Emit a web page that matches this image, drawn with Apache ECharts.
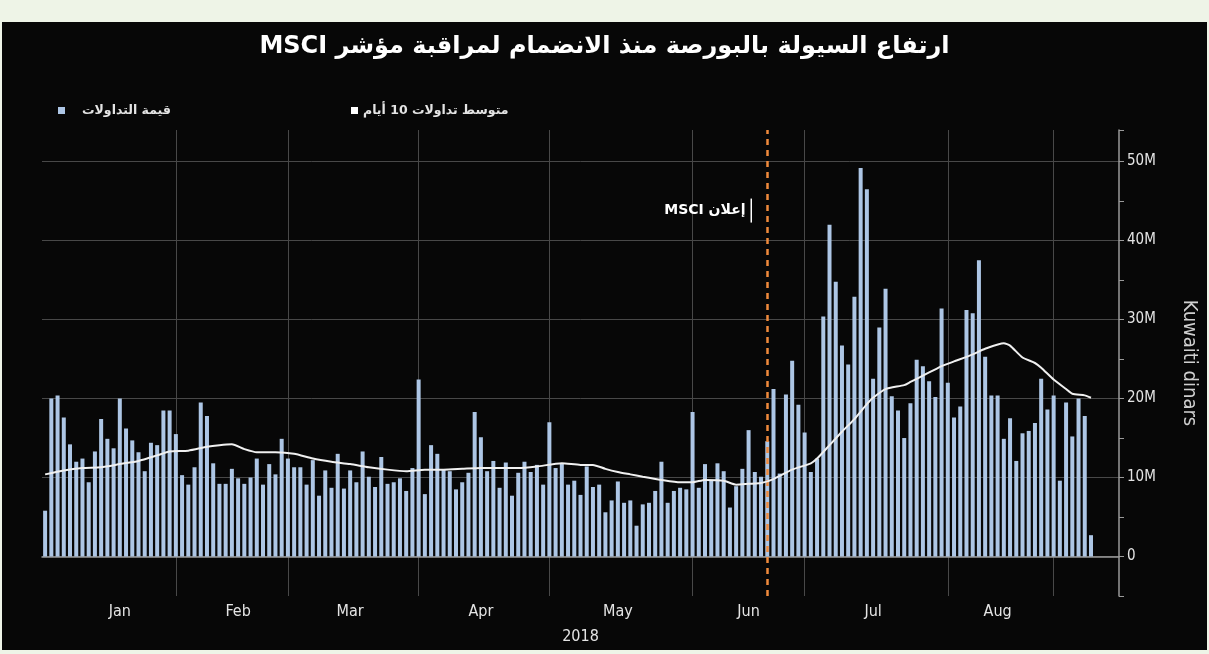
<!DOCTYPE html>
<html>
<head>
<meta charset="utf-8">
<script src="https://cdn.jsdelivr.net/npm/echarts@6/dist/echarts.min.js"></script>
<style>
  html, body { margin: 0; padding: 0; background: #eef4e7; }
  #chart { position: absolute; left: 2px; top: 22px; width: 1205px; height: 628px; background: #070707; }
</style>
</head>
<body>
<div id="chart"></div>
<script>
// trading days per month (Sep is partial, last slots are empty padding)
const monthNames = ['Jan', 'Feb', 'Mar', 'Apr', 'May', 'Jun', 'Jul', 'Aug', 'Sep'];
const monthDays = [21, 18, 21, 21, 23, 18, 23, 17, 11];
// where the month names sit (trading-day index)
const monthLabelIdx = [12, 31, 49, 70, 92, 113, 133, 153];

// daily traded value, million KWD
const tradeValue = [
  5.8, 20.0, 20.4, 17.6, 14.2, 12.0, 12.4, 9.4, 13.3, 17.4,
  14.9, 13.7, 20.0, 16.2, 14.7, 13.2, 10.8, 14.4, 14.1, 18.5,
  18.5, 15.5, 10.3, 9.1, 11.3, 19.5, 17.8, 11.8, 9.2, 9.2,
  11.1, 9.9, 9.2, 10.0, 12.4, 9.1, 11.7, 10.4, 14.9, 12.4,
  11.3, 11.3, 9.1, 12.2, 7.7, 10.9, 8.7, 13.0, 8.6, 10.9,
  9.4, 13.3, 10.1, 8.8, 12.6, 9.2, 9.4, 9.9, 8.3, 11.2,
  22.4, 7.9, 14.1, 13.0, 11.0, 10.8, 8.5, 9.4, 10.6, 18.3,
  15.1, 10.8, 12.1, 8.7, 11.9, 7.7, 10.6, 12.0, 10.7, 11.6,
  9.1, 17.0, 11.2, 11.8, 9.1, 9.6, 7.8, 11.4, 8.8, 9.1,
  5.6, 7.1, 9.5, 6.8, 7.1, 3.9, 6.6, 6.8, 8.3, 12.0,
  6.8, 8.3, 8.7, 8.5, 18.3, 8.7, 11.7, 9.6, 11.8, 10.8,
  6.2, 8.9, 11.1, 16.0, 10.7, 10.1, 14.6, 21.2, 10.5, 20.5,
  24.8, 19.2, 15.7, 10.7, 12.4, 30.4, 42.0, 34.8, 26.7, 24.3,
  32.9, 49.2, 46.5, 22.5, 29.0, 33.9, 20.3, 18.5, 15.0, 19.4,
  24.9, 24.1, 22.2, 20.2, 31.4, 22.0, 17.6, 19.0, 31.2, 30.8,
  37.5, 25.3, 20.4, 20.4, 14.9, 17.5, 12.1, 15.6, 15.9, 16.9,
  22.5, 18.6, 20.4, 9.6, 19.5, 15.2, 20.0, 17.8, 2.7
];

// 10-day average: [day index, million KWD]
const avg10 = [
  [0, 10.4], [3, 10.9], [6, 11.2], [9, 11.3], [12, 11.7], [15, 12.1], [18, 12.8],
  [20, 13.3], [23, 13.4], [26, 13.9], [28, 14.1], [30, 14.2], [32, 13.6], [34, 13.2],
  [37, 13.2], [40, 13.0], [43, 12.4], [46, 12.0], [49, 11.7], [52, 11.3], [55, 11.0],
  [58, 10.8], [61, 11.0], [64, 11.0], [67, 11.1], [70, 11.2], [73, 11.2], [76, 11.2],
  [79, 11.4], [83, 11.8], [86, 11.6], [88, 11.6], [90, 11.1], [92, 10.7], [94, 10.4],
  [96, 10.1], [99, 9.7], [102, 9.4], [104, 9.4], [106, 9.7], [109, 9.6], [111, 9.1],
  [113, 9.2], [115, 9.3], [117, 9.8], [120, 11.0], [123, 11.8], [124, 12.4], [126, 14.1],
  [128, 15.8], [130, 17.4], [132, 19.3], [133, 20.1], [135, 21.2], [138, 21.7], [139, 22.1],
  [141, 22.9], [143, 23.7], [144, 24.1], [146, 24.7], [149, 25.6], [151, 26.3], [154, 27.0],
  [155, 26.7], [157, 25.2], [159, 24.5], [160, 23.9], [162, 22.4], [164, 21.2], [165, 20.6],
  [167, 20.4], [168, 20.1]
];

const msciIdx = 116;      // MSCI announcement day
const msciLabelAt = 43.8; // height of the note, million KWD

// right-to-left embedding for the Arabic strings
const rtl = (s) => '\u202B' + s + '\u202C';
const nameBars = 'قيمة التداولات';
const nameAvg = 'متوسط تداولات 10 أيام';

// categories + month starts
const categories = [];
const monthStart = new Set();
monthDays.forEach((n, m) => {
  monthStart.add(categories.length);
  for (let d = 1; d <= n; d++) categories.push(monthNames[m] + '-' + d);
});
const labelSet = new Set(monthLabelIdx);

const font = "'DejaVu Sans Condensed', 'DejaVu Sans', sans-serif";
const gridColor = '#484848';
const axisColor = '#9a9a9a';
const textColor = '#e4e4e4';

const chart = echarts.init(document.getElementById('chart'));
chart.setOption({
  backgroundColor: '#070707',
  animation: false,
  textStyle: { fontFamily: font },
  title: {
    text: rtl('ارتفاع السيولة بالبورصة منذ الانضمام لمراقبة مؤشر MSCI'),
    left: 'center',
    top: 8,
    textStyle: { color: '#ffffff', fontSize: 24, fontWeight: 'bold', fontFamily: 'DejaVu Sans' }
  },
  legend: [
    {
      data: [nameBars],
      formatter: rtl,
      left: 51, top: 77,
      icon: 'rect', itemWidth: 7, itemHeight: 7, itemGap: 0,
      textStyle: { color: textColor, fontSize: 12.5, fontWeight: 'bold', fontFamily: 'DejaVu Sans', padding: [0, 0, 0, 12] }
    },
    {
      data: [nameAvg],
      formatter: rtl,
      left: 344, top: 77,
      icon: 'rect', itemWidth: 7, itemHeight: 7, itemGap: 0,
      textStyle: { color: textColor, fontSize: 12.5, fontWeight: 'bold', fontFamily: 'DejaVu Sans' }
    }
  ],
  grid: { left: 40, right: 84, top: 108, bottom: 47 },
  xAxis: {
    type: 'category',
    data: categories,
    boundaryGap: true,
    name: '2018',
    nameLocation: 'middle',
    nameGap: 33,
    nameTextStyle: { color: textColor, fontSize: 16 },
    axisLine: { lineStyle: { color: axisColor, width: 1.5 } },
    axisTick: { interval: (i) => monthStart.has(i), alignWithLabel: true, length: 5, lineStyle: { color: axisColor } },
    axisLabel: {
      interval: (i) => labelSet.has(i),
      formatter: (v) => v.split('-')[0],
      color: textColor, fontSize: 16, margin: 8
    },
    splitLine: {
      show: true,
      alignWithLabel: true,
      interval: (i) => monthStart.has(i) && i > 0,
      lineStyle: { color: gridColor, width: 1 }
    }
  },
  yAxis: {
    type: 'value',
    position: 'right',
    min: -5, max: 54, interval: 5,
    name: 'Kuwaiti dinars',
    nameLocation: 'middle',
    nameRotate: -90,
    nameGap: 60,
    nameTextStyle: { color: '#cfcfcf', fontSize: 20 },
    axisLine: { show: true, lineStyle: { color: axisColor, width: 1.5 } },
    axisTick: { show: true, length: 5, lineStyle: { color: axisColor } },
    axisLabel: {
      color: textColor, fontSize: 15, margin: 8,
      formatter: (v) => (v >= 0 && v % 10 === 0) ? (v === 0 ? '0' : v + 'M') : ''
    },
    splitLine: { show: true, lineStyle: { color: ['rgba(0,0,0,0)', gridColor], width: 1 } }
  },
  series: [
    {
      name: nameBars,
      type: 'bar',
      data: tradeValue,
      barWidth: 4,
      itemStyle: { color: '#adc6e5' },
      markLine: {
        silent: true,
        symbol: 'none',
        label: { show: false },
        lineStyle: { color: '#f08a3c', type: [6, 5], width: 2.5 },
        data: [{ xAxis: msciIdx }]
      },
      markPoint: {
        silent: true,
        data: [{
          coord: [msciIdx, msciLabelAt],
          symbol: 'rect',
          symbolSize: [1.5, 24],
          symbolOffset: [-16, 0],
          itemStyle: { color: '#ffffff' },
          label: {
            show: true, position: 'left', distance: 5,
            formatter: rtl('إعلان MSCI'),
            color: '#ffffff', fontSize: 14, fontWeight: 'bold', fontFamily: 'DejaVu Sans'
          }
        }]
      }
    },
    {
      name: nameAvg,
      type: 'line',
      data: avg10,
      showSymbol: false,
      smooth: 0.2,
      z: 5,
      itemStyle: { color: '#ffffff' },
      lineStyle: { color: '#f0f0f0', width: 2 }
    }
  ]
});
</script>
</body>
</html>
